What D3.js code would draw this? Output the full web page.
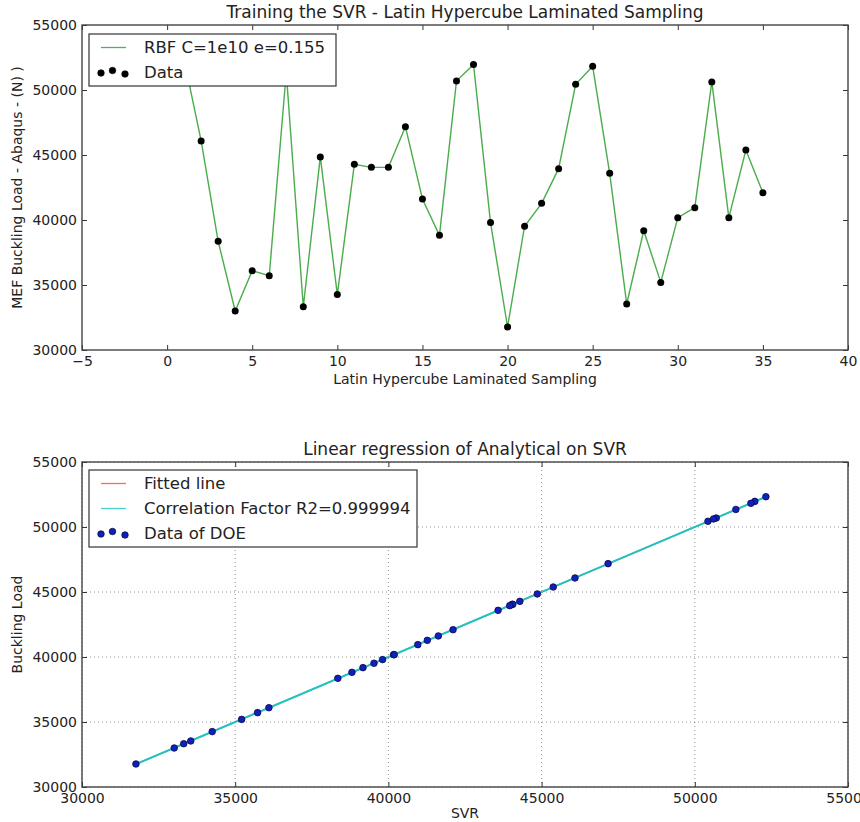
<!DOCTYPE html>
<html>
<head>
<meta charset="utf-8">
<script src="https://cdn.jsdelivr.net/npm/d3@7"></script>
<style>
  body { margin: 0; background: #fff; }
  svg { display: block; font-family: "DejaVu Sans", sans-serif; }
</style>
</head>
<body>
<svg width="860" height="822"></svg>
<script>
// sample index along the Latin Hypercube laminated sampling
var sampleIdx = d3.range(1, 36);
// MEF buckling load from Abaqus (N)
var bucklingLoad = [52330, 46080, 38360, 33000, 36100, 35720, 51350, 33330, 44850, 34260,
	44280, 44050, 44050, 47180, 41620, 38820, 50690, 51970, 39800, 31770,
	39520, 41280, 43950, 50440, 51820, 43590, 33540, 39180, 35200, 40180,
	40950, 50620, 40180, 45385, 42100];
// SVR prediction for the same samples
var svrLoad = [52320, 46090, 38350, 33010, 36100, 35730, 51340, 33320, 44860, 34250,
	44290, 44040, 44060, 47170, 41630, 38810, 50700, 51960, 39810, 31760,
	39530, 41270, 43960, 50430, 51830, 43580, 33550, 39170, 35210, 40170,
	40960, 50610, 40190, 45380, 42110];

var topXTicks = [-5, 0, 5, 10, 15, 20, 25, 30, 35, 40];
var loadTicks = [30000, 35000, 40000, 45000, 50000, 55000];

var svg = d3.select("svg");
svg.append("rect").attr("width", 860).attr("height", 822).attr("fill", "#fff");

var left = 82, right = 848;

function frame(g, x, y, xTicks, yTicks, grid) {
	var x0 = x.range()[0], x1 = x.range()[1];
	var y0 = y.range()[0], y1 = y.range()[1];
	if (grid) {
		g.selectAll(".gx").data(xTicks).enter().append("line")
			.attr("x1", function (d) { return x(d); }).attr("x2", function (d) { return x(d); })
			.attr("y1", y0).attr("y2", y1)
			.attr("stroke", "#777").attr("stroke-width", 0.8).attr("stroke-dasharray", "1,3");
		g.selectAll(".gy").data(yTicks).enter().append("line")
			.attr("y1", function (d) { return y(d); }).attr("y2", function (d) { return y(d); })
			.attr("x1", x0).attr("x2", x1)
			.attr("stroke", "#777").attr("stroke-width", 0.8).attr("stroke-dasharray", "1,3");
	}
	var ax = [
		g.append("g").attr("transform", "translate(0," + y0 + ")")
			.call(d3.axisBottom(x).tickValues(xTicks).tickSize(-5).tickPadding(6).tickFormat(d3.format("d"))),
		g.append("g").attr("transform", "translate(0," + y1 + ")")
			.call(d3.axisTop(x).tickValues(xTicks).tickSize(-5).tickFormat("")),
		g.append("g").attr("transform", "translate(" + x0 + ",0)")
			.call(d3.axisLeft(y).tickValues(yTicks).tickSize(-5).tickPadding(5).tickFormat(d3.format("d"))),
		g.append("g").attr("transform", "translate(" + x1 + ",0)")
			.call(d3.axisRight(y).tickValues(yTicks).tickSize(-5).tickFormat(""))
	];
	ax.forEach(function (a) {
		a.select(".domain").remove();
		a.selectAll("line").attr("stroke", "#333");
		a.selectAll("text").attr("font-size", 14).attr("fill", "#222")
			.attr("font-family", "DejaVu Sans, sans-serif");
	});
}

function chrome(g, x, y, title, xlab, ylab, xlabOff) {
	var x0 = x.range()[0], x1 = x.range()[1];
	var y0 = y.range()[0], y1 = y.range()[1];
	g.append("rect").attr("x", x0).attr("y", y1).attr("width", x1 - x0).attr("height", y0 - y1)
		.attr("fill", "none").attr("stroke", "#444").attr("stroke-width", 1.4);
	g.append("text").attr("x", (x0 + x1) / 2).attr("y", y1 - 7).attr("text-anchor", "middle")
		.attr("font-size", 17).attr("fill", "#222").text(title);
	g.append("text").attr("x", (x0 + x1) / 2).attr("y", y0 + xlabOff).attr("text-anchor", "middle")
		.attr("font-size", 14).attr("fill", "#222").text(xlab);
	g.append("text").attr("transform", "translate(22," + (y0 + y1) / 2 + ") rotate(-90)")
		.attr("text-anchor", "middle").attr("font-size", 14).attr("fill", "#222").text(ylab);
}

function legend(g, x, y, w, items) {
	var h = items.length * 25 + 2;
	g.append("rect").attr("x", x).attr("y", y).attr("width", w).attr("height", h)
		.attr("fill", "#fff").attr("stroke", "#333").attr("stroke-width", 1.2);
	items.forEach(function (it, i) {
		var cy = y + 13.5 + i * 25;
		if (it.type === "line") {
			g.append("line").attr("x1", x + 12).attr("x2", x + 37).attr("y1", cy).attr("y2", cy)
				.attr("stroke", it.color).attr("stroke-width", 1.3).attr("opacity", 0.8);
		} else {
			[[0, 0.5], [11.5, -2], [24, 1.5]].forEach(function (o) {
				g.append("circle").attr("cx", x + 12 + o[0]).attr("cy", cy + o[1]).attr("r", 3.3)
					.attr("fill", it.color).attr("stroke", "#000").attr("stroke-width", 0.6);
			});
		}
		g.append("text").attr("x", x + 55).attr("y", cy).attr("dy", "0.35em")
			.attr("font-size", 16.5).attr("fill", "#222").text(it.label);
	});
}

// ---- top: training the SVR
var gTop = svg.append("g");
var xTop = d3.scaleLinear().domain([-5, 40]).range([left, right]);
var yTop = d3.scaleLinear().domain([30000, 55000]).range([350, 25]);

frame(gTop, xTop, yTop, topXTicks, loadTicks, false);

gTop.append("path").datum(sampleIdx)
	.attr("fill", "none").attr("stroke", "#2a9e2a").attr("stroke-width", 1.4).attr("opacity", 0.85)
	.attr("d", d3.line()
		.x(function (d) { return xTop(d); })
		.y(function (d, i) { return yTop(bucklingLoad[i]); }));

gTop.selectAll(".pt").data(sampleIdx).enter().append("circle")
	.attr("cx", function (d) { return xTop(d); })
	.attr("cy", function (d, i) { return yTop(bucklingLoad[i]); })
	.attr("r", 3.5).attr("fill", "#000");

chrome(gTop, xTop, yTop, "Training the SVR - Latin Hypercube Laminated Sampling",
	"Latin Hypercube Laminated Sampling", "MEF Buckling Load - Abaqus - (N) )", 34);
legend(gTop, 89, 34, 247, [
	{ type: "line", color: "#2a9e2a", label: "RBF C=1e10 e=0.155" },
	{ type: "dot", color: "#000", label: "Data" }
]);

// ---- bottom: regression of analytical on SVR
var gBot = svg.append("g");
var xBot = d3.scaleLinear().domain([30000, 55000]).range([left, right]);
var yBot = d3.scaleLinear().domain([30000, 55000]).range([787, 462]);

frame(gBot, xBot, yBot, loadTicks, loadTicks, true);

// least squares fit of buckling load on SVR
var mx = d3.mean(svrLoad), my = d3.mean(bucklingLoad);
var sxy = d3.sum(svrLoad, function (v, i) { return (v - mx) * (bucklingLoad[i] - my); });
var sxx = d3.sum(svrLoad, function (v) { return (v - mx) * (v - mx); });
var slope = sxy / sxx, icpt = my - slope * mx;
var fitX = d3.extent(svrLoad);
var fitLine = d3.line()
	.x(function (d) { return xBot(d); })
	.y(function (d) { return yBot(icpt + slope * d); });

gBot.append("path").datum(fitX).attr("fill", "none")
	.attr("stroke", "#ff4040").attr("stroke-width", 1.2).attr("d", fitLine);
gBot.append("path").datum(fitX).attr("fill", "none")
	.attr("stroke", "#1cc4c4").attr("stroke-width", 2).attr("d", fitLine);

gBot.selectAll(".pt").data(svrLoad).enter().append("circle")
	.attr("cx", function (d) { return xBot(d); })
	.attr("cy", function (d, i) { return yBot(bucklingLoad[i]); })
	.attr("r", 3.3).attr("fill", "#1020c0").attr("stroke", "#0a0a40").attr("stroke-width", 0.8);

chrome(gBot, xBot, yBot, "Linear regression of Analytical on SVR", "SVR", "Buckling Load", 31);
legend(gBot, 89, 470, 328, [
	{ type: "line", color: "#ff4040", label: "Fitted line" },
	{ type: "line", color: "#1cc4c4", label: "Correlation Factor R2=0.999994" },
	{ type: "dot", color: "#1020c0", label: "Data of DOE" }
]);
</script>
</body>
</html>
